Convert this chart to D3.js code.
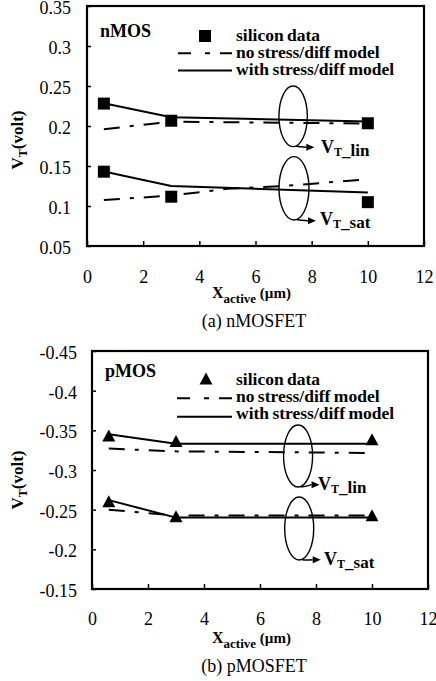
<!DOCTYPE html>
<html><head><meta charset="utf-8">
<script src="https://cdn.jsdelivr.net/npm/d3@7"></script>
<style>
html,body{margin:0;padding:0;background:#fff;}
svg, svg text{font-family:"Liberation Serif","Times New Roman",serif;}
</style></head>
<body>
<script>
// ---------- data ----------
const xTicks = [0, 2, 4, 6, 8, 10, 12];
const xTickLabels = ["0", "2", "4", "6", "8", "10", "12"];

const nYTicks = [0.05, 0.1, 0.15, 0.2, 0.25, 0.3, 0.35];
const nYTickLabels = ["0.05", "0.1", "0.15", "0.2", "0.25", "0.3", "0.35"];
const pYTicks = [-0.15, -0.2, -0.25, -0.3, -0.35, -0.4, -0.45];
const pYTickLabels = ["-0.15", "-0.2", "-0.25", "-0.3", "-0.35", "-0.4", "-0.45"];

const siliconX = [0.6, 3, 10];
const modelX = [0.6, 3, 10];

// nMOS
const nLinSilicon = [0.228, 0.2066, 0.2034];
const nLinWithStress = [0.2285, 0.211, 0.2055];
const nLinNoStress = [0.196, 0.2055, 0.203];
const nSatSilicon = [0.1429, 0.1116, 0.1048];
const nSatWithStress = [0.143, 0.125, 0.117];
const nSatNoStressX = [0.6, 3, 5, 7, 10];
const nSatNoStress = [0.1075, 0.113, 0.1215, 0.125, 0.1335];

// pMOS
const pLinSilicon = [-0.343, -0.336, -0.338];
const pLinWithStress = [-0.345, -0.333, -0.333];
const pLinNoStress = [-0.327, -0.3235, -0.3215];
const pSatSilicon = [-0.260, -0.241, -0.2424];
const pSatWithStress = [-0.262, -0.240, -0.240];
const pSatNoStress = [-0.250, -0.2425, -0.2425];

const legendLabels = ["silicon data", "no stress/diff model", "with stress/diff model"];

// ---------- drawing ----------
const FONT = "'Liberation Serif', 'Times New Roman', serif";
const W = 436, H = 681;
const svg = d3.select("body").append("svg").attr("width", W).attr("height", H)
  .attr("font-family", FONT);

const DASH = "16,10,4,10";

function zip(xs, ys) { return xs.map((x, i) => [x, ys[i]]); }

function panel(c) {
  const x = d3.scaleLinear().domain([0, 12]).range([c.left, c.right]);
  const y = d3.scaleLinear().domain(c.yDomain).range([c.bottom, c.top]);
  const g = svg.append("g").attr("font-family", FONT);

  const xa = g.append("g").attr("transform", `translate(0,${c.bottom})`)
    .call(d3.axisBottom(x).tickValues(xTicks).tickFormat((d, i) => xTickLabels[i])
      .tickSizeInner(-5).tickSizeOuter(0));
  xa.attr("font-family", FONT).attr("font-size", 18);
  xa.select(".domain").remove();
  xa.selectAll("line").attr("stroke", "#000").attr("stroke-width", 1.5);
  xa.selectAll("text").attr("y", c.xLabelOff).attr("dy", 0)
    .attr("fill", "#000");

  const ya = g.append("g").attr("transform", `translate(${c.left},0)`)
    .call(d3.axisLeft(y).tickValues(c.yTicks).tickFormat((d, i) => c.yTickLabels[i])
      .tickSizeInner(-4).tickSizeOuter(0));
  ya.attr("font-family", FONT).attr("font-size", 18);
  ya.select(".domain").remove();
  ya.selectAll("line").attr("stroke", "#000").attr("stroke-width", 1.5);
  ya.selectAll("text").attr("x", -c.yLabelPad).attr("dy", "0.42em")
    .attr("fill", "#000");

  g.append("rect").attr("x", c.left).attr("y", c.top)
    .attr("width", c.right - c.left).attr("height", c.bottom - c.top)
    .attr("fill", "none").attr("stroke", "#000").attr("stroke-width", 2.2);

  const line = d3.line().x(d => x(d[0])).y(d => y(d[1]));

  c.series.forEach(s => {
    g.append("path").attr("d", line(zip(s.x, s.y)))
      .attr("fill", "none").attr("stroke", "#000").attr("stroke-width", 2)
      .attr("stroke-dasharray", s.dash ? DASH : null);
  });

  const marker = c.marker === "square"
    ? (px, py) => `M${px - 6},${py - 6}h12v12h-12Z`
    : (px, py) => `M${px},${py - 6.5}L${px + 6.5},${py + 5.5}L${px - 6.5},${py + 5.5}Z`;

  c.points.forEach(p => {
    g.selectAll(null).data(zip(siliconX, p)).enter().append("path")
      .attr("d", d => marker(x(d[0]), y(d[1]))).attr("fill", "#000");
  });

  g.append("text").attr("x", c.nameX).attr("y", c.nameY).text(c.name)
    .attr("font-size", 18).attr("font-weight", "bold");

  const L = c.legend;
  g.append("path").attr("d", marker(L.mx, L.my)).attr("fill", "#000");
  g.append("line").attr("x1", L.x1).attr("x2", L.x2).attr("y1", L.dy).attr("y2", L.dy)
    .attr("stroke", "#000").attr("stroke-width", 2).attr("stroke-dasharray", "13,14,5,10,20");
  g.append("line").attr("x1", L.x1).attr("x2", L.x2).attr("y1", L.sy).attr("y2", L.sy)
    .attr("stroke", "#000").attr("stroke-width", 2);
  legendLabels.forEach((t, i) => {
    g.append("text").attr("x", L.tx).attr("y", L.ty[i]).text(t)
      .attr("font-size", 17.5).attr("font-weight", "bold").attr("word-spacing", "-1px");
  });

  c.ann.forEach(a => {
    const cx = x(a.x), cy = y(a.y);
    g.append("ellipse").attr("cx", cx).attr("cy", cy).attr("rx", a.rx).attr("ry", a.ry)
      .attr("fill", "none").attr("stroke", "#000").attr("stroke-width", 1.4);
    const bx = cx + 3, by = cy + a.ry - 0.3;
    const tx = cx + a.rx + 5, ty = by + a.tipDy;
    g.append("path").attr("d", `M${bx},${by}Q${bx + 4},${by + 0.5} ${tx - 6},${ty}`)
      .attr("fill", "none").attr("stroke", "#000").attr("stroke-width", 1.5);
    g.append("path").attr("d", `M${tx + 2},${ty}L${tx - 6},${ty - 3.5}L${tx - 6},${ty + 3.5}Z`).attr("fill", "#000");
    const t = g.append("text").attr("x", a.lx).attr("y", a.ly).attr("font-weight", "bold");
    t.append("tspan").attr("font-size", 18).text("V");
    t.append("tspan").attr("font-size", 12).attr("dy", 3).text("T");
    t.append("tspan").attr("font-size", 17).text(a.sub);
  });

  const yt = g.append("text").attr("transform", `translate(${c.yTitleX},${c.yTitleY}) rotate(-90)`)
    .attr("text-anchor", "middle").attr("font-weight", "bold");
  yt.append("tspan").attr("font-size", 17).text("V");
  yt.append("tspan").attr("font-size", 12).attr("dy", 4).text("T");
  yt.append("tspan").attr("font-size", 17).attr("dy", -4).text("(volt)");

  const xt = g.append("text").attr("x", c.xTitleX).attr("y", c.xTitleY).attr("font-weight", "bold");
  xt.append("tspan").attr("font-size", 16).text("X");
  xt.append("tspan").attr("font-size", 13).attr("dy", 5).text("active");
  xt.append("tspan").attr("font-size", 15).attr("dy", -5).text(" (\u00b5m)");

  g.append("text").attr("x", c.capX).attr("y", c.capY).attr("text-anchor", "middle")
    .attr("font-size", 18).text(c.caption);
}

panel({
  left: 87, right: 424, top: 6, bottom: 246,
  yDomain: [0.05, 0.35], yTicks: nYTicks, yTickLabels: nYTickLabels,
  xLabelOff: 37, yLabelPad: 16,
  marker: "square",
  series: [
    { x: modelX, y: nLinWithStress, dash: false },
    { x: modelX, y: nLinNoStress, dash: true },
    { x: modelX, y: nSatWithStress, dash: false },
    { x: nSatNoStressX, y: nSatNoStress, dash: true }
  ],
  points: [nLinSilicon, nSatSilicon],
  name: "nMOS", nameX: 100, nameY: 36.5,
  legend: { mx: 205, my: 36, x1: 178, x2: 232, dy: 53.3, sy: 70.5, tx: 236, ty: [41, 58, 75] },
  ann: [
    { x: 7.34, y: 0.2121, rx: 14.2, ry: 30.3, tipDy: 1, lx: 321, ly: 153, sub: "_lin" },
    { x: 7.37, y: 0.1221, rx: 15, ry: 31.7, tipDy: 1, lx: 320, ly: 225, sub: "_sat" }
  ],
  yTitleX: 23, yTitleY: 140,
  xTitleX: 212, xTitleY: 298,
  capX: 254, capY: 326.5, caption: "(a) nMOSFET"
});

panel({
  left: 92, right: 428, top: 351, bottom: 589,
  yDomain: [-0.15, -0.45], yTicks: pYTicks, yTickLabels: pYTickLabels,
  xLabelOff: 36, yLabelPad: 15,
  marker: "triangle",
  series: [
    { x: modelX, y: pLinWithStress, dash: false },
    { x: modelX, y: pLinNoStress, dash: true },
    { x: modelX, y: pSatWithStress, dash: false },
    { x: modelX, y: pSatNoStress, dash: true }
  ],
  points: [pLinSilicon, pSatSilicon],
  name: "pMOS", nameX: 105, nameY: 377,
  legend: { mx: 206, my: 379, x1: 177, x2: 232, dy: 398.3, sy: 416.7, tx: 236, ty: [385, 402, 419] },
  ann: [
    { x: 7.36, y: -0.3177, rx: 14.5, ry: 31, tipDy: -2, lx: 318, ly: 490, sub: "_lin" },
    { x: 7.40, y: -0.2263, rx: 14.5, ry: 31.5, tipDy: 0, lx: 324, ly: 565, sub: "_sat" }
  ],
  yTitleX: 23, yTitleY: 480,
  xTitleX: 212, xTitleY: 643,
  capX: 254, capY: 672, caption: "(b) pMOSFET"
});
</script>
</body></html>
